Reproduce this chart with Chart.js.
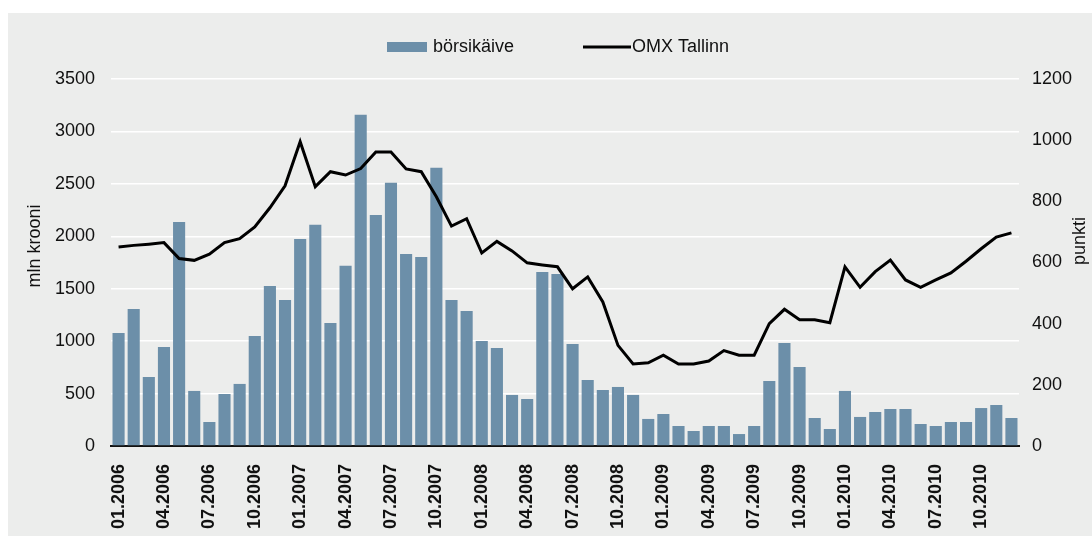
<!DOCTYPE html>
<html>
<head>
<meta charset="utf-8">
<script src="https://cdn.jsdelivr.net/npm/chart.js@4/dist/chart.umd.min.js"></script>
<style>
    html, body { margin: 0; padding: 0; background: #fff; }
    .panel { position: absolute; left: 8px; top: 13px; width: 1084px; height: 523px; background: #ecedec; }
    canvas { display: block; }
</style>
</head>
<body>
<div class="panel"><canvas id="chart" width="1084" height="523"></canvas></div>
<script>
const months = [
    '01.2006', '02.2006', '03.2006', '04.2006', '05.2006', '06.2006', '07.2006', '08.2006', '09.2006', '10.2006', '11.2006', '12.2006',
    '01.2007', '02.2007', '03.2007', '04.2007', '05.2007', '06.2007', '07.2007', '08.2007', '09.2007', '10.2007', '11.2007', '12.2007',
    '01.2008', '02.2008', '03.2008', '04.2008', '05.2008', '06.2008', '07.2008', '08.2008', '09.2008', '10.2008', '11.2008', '12.2008',
    '01.2009', '02.2009', '03.2009', '04.2009', '05.2009', '06.2009', '07.2009', '08.2009', '09.2009', '10.2009', '11.2009', '12.2009',
    '01.2010', '02.2010', '03.2010', '04.2010', '05.2010', '06.2010', '07.2010', '08.2010', '09.2010', '10.2010', '11.2010', '12.2010'
];

// börsikäive, mln krooni
const turnover = [
    1078, 1307, 658, 945, 2137, 525, 229, 496, 592, 1050, 1527, 1393,
    1975, 2109, 1174, 1718, 3158, 2204, 2510, 1832, 1803, 2653, 1393, 1288,
    1002, 935, 487, 448, 1660, 1641, 973, 630, 534, 563, 487, 258,
    305, 191, 143, 191, 191, 114, 191, 620, 983, 754, 267, 162,
    525, 277, 324, 353, 353, 210, 191, 229, 229, 362, 391, 267
];

// OMX Tallinn, punkti
const omx = [
    651, 656, 660, 665, 613, 607, 627, 665, 678, 716, 779, 851,
    995, 848, 897, 886, 907, 961, 961, 906, 897, 815, 719, 743,
    631, 669, 638, 599, 592, 586, 514, 553, 471, 329, 268, 272,
    297, 268, 268, 278, 312, 297, 297, 400, 447, 413, 413, 403,
    586, 519, 570, 608, 543, 519, 543, 566, 604, 645, 683, 697
];

const shownTicks = [
    '01.2006', '04.2006', '07.2006', '10.2006', '01.2007', '04.2007', '07.2007', '10.2007',
    '01.2008', '04.2008', '07.2008', '10.2008', '01.2009', '04.2009', '07.2009', '10.2009',
    '01.2010', '04.2010', '07.2010', '10.2010'
];

const FONT = '"Liberation Sans", Arial, Helvetica, sans-serif';
const TEXT = '#111';
const BAR = '#6c8fa9';

// legend and rotated axis titles, drawn by hand to match the layout
const decorPlugin = {
    id: 'decor',
    afterDraw(chart) {
        const ctx = chart.ctx;
        ctx.save();
        ctx.font = '18px ' + FONT;
        ctx.fillStyle = TEXT;
        ctx.textBaseline = 'middle';

        // legend
        const ly = 34;
        ctx.fillStyle = BAR;
        ctx.fillRect(379, ly - 5, 40, 10);
        ctx.fillStyle = TEXT;
        ctx.textAlign = 'left';
        ctx.fillText('börsikäive', 425, ly);
        ctx.strokeStyle = '#000';
        ctx.lineWidth = 3;
        ctx.beginPath();
        ctx.moveTo(575, ly);
        ctx.lineTo(623, ly);
        ctx.stroke();
        ctx.fillText('OMX Tallinn', 624, ly);

        // axis titles
        ctx.textAlign = 'center';
        ctx.translate(27, 233);
        ctx.rotate(-Math.PI / 2);
        ctx.fillText('mln krooni', 0, 0);
        ctx.setTransform(1, 0, 0, 1, 0, 0);
        ctx.translate(1072, 228);
        ctx.rotate(-Math.PI / 2);
        ctx.fillText('punkti', 0, 0);
        ctx.restore();
    }
};

new Chart(document.getElementById('chart'), {
    data: {
        labels: months,
        datasets: [
            {
                type: 'line',
                label: 'OMX Tallinn',
                data: omx,
                yAxisID: 'y1',
                borderColor: '#000',
                borderWidth: 3,
                pointRadius: 0,
                tension: 0,
                order: 0
            },
            {
                type: 'bar',
                label: 'börsikäive',
                data: turnover,
                yAxisID: 'y',
                backgroundColor: BAR,
                barPercentage: 0.8,
                categoryPercentage: 1.0,
                order: 1
            }
        ]
    },
    options: {
        responsive: false,
        devicePixelRatio: 1,
        animation: false,
        layout: { padding: { top: 66, left: 0, right: 0, bottom: 0 } },
        plugins: { legend: { display: false }, tooltip: { enabled: false } },
        scales: {
            x: {
                grid: { display: false },
                border: { display: true, color: '#111', width: 2 },
                ticks: {
                    autoSkip: false, maxRotation: 90, minRotation: 90, padding: 10,
                    color: TEXT, font: { family: FONT, size: 18, weight: 'bold' },
                    callback: function (v, i) {
                        const l = this.getLabelForValue(v);
                        return shownTicks.includes(l) ? l : '';
                    }
                },
                afterFit: s => { s.height = 90; }
            },
            y: {
                position: 'left',
                min: 0, max: 3500,
                grid: { color: c => c.tick.value === 0 ? 'rgba(0,0,0,0)' : '#fff', lineWidth: 1.5, drawTicks: false },
                border: { display: false },
                ticks: { stepSize: 500, padding: 16, color: TEXT, font: { family: FONT, size: 18 }, callback: v => String(v) },
                afterFit: s => { s.width = 103; }
            },
            y1: {
                position: 'right',
                min: 0, max: 1200,
                grid: { drawOnChartArea: false, drawTicks: false },
                border: { display: false },
                ticks: { stepSize: 200, padding: 13, color: TEXT, font: { family: FONT, size: 18 }, callback: v => String(v) },
                afterFit: s => { s.width = 73; }
            }
        }
    },
    plugins: [decorPlugin]
});
</script>
</body>
</html>
